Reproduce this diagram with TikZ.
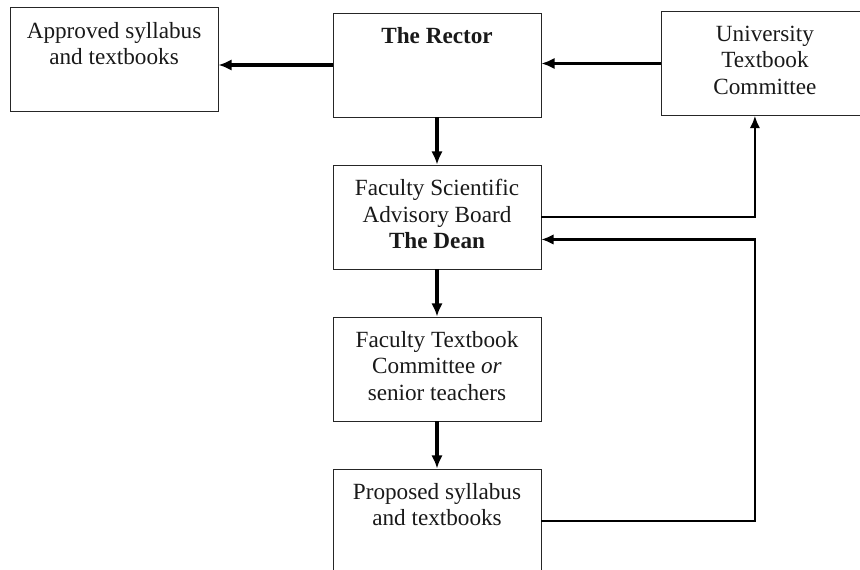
\documentclass[tikz,border=0pt]{standalone}
\usepackage{fontspec}
\setmainfont{Liberation Serif}
\usetikzlibrary{arrows.meta}

\begin{document}
\begin{tikzpicture}[
            x=0.02cm, y=-0.02cm,
            node distance=3.04cm,
            box/.style={rectangle, draw=black!85, line width=0.45pt, minimum width=4.16cm, minimum height=2.08cm},
            lbl/.style={anchor=north, align=center, yshift=-5pt, text=black!90, font=\fontsize{13.2}{15}\selectfont},
            arrow/.style={-{Latex[length=7.5pt, width=6.5pt]}, line width=2pt},
            link/.style={-{Latex[length=7pt, width=6pt]}, line width=1.2pt}
        ]
        \useasboundingbox (0,0) rectangle (860,570);

        % Top row
        \node[box, label={[lbl]north:\textbf{The Rector}}] (rector) at (437,65) {};
        \node[box, node distance=6.46cm, left of=rector, yshift=0.11cm, label={[lbl]north:Approved syllabus\\and textbooks}] (approved) {};
        \node[box, node distance=6.56cm, right of=rector, yshift=0.03cm, label={[lbl]north:University\\Textbook\\Committee}] (utc) {};

        % Faculty level
        \node[box, below of=rector, label={[lbl]north:Faculty Scientific\\Advisory Board\\\textbf{The Dean}}] (dean) {};
        \node[box, below of=dean, label={[lbl]north:Faculty Textbook\\Committee \textit{or}\\senior teachers}] (ftc) {};
        \node[box, below of=ftc, label={[lbl]north:Proposed syllabus\\and textbooks}] (proposed) {};

        % Main arrows
        \draw[arrow] (rector.west) -- (rector.west -| approved.east);
        \draw[arrow] (utc.west) -- (utc.west -| rector.east);
        \draw[arrow] (rector) -- (dean);
        \draw[arrow] (dean) -- (ftc);
        \draw[arrow] (ftc) -- (proposed);

        % Side connections
        \coordinate (turn) at ([xshift=-0.2cm]utc.south);
        \coordinate (back) at ([yshift=-0.45cm]dean.east);
        \draw[link] (dean.east) -| (turn);
        \draw[link] (proposed.east) -| (turn |- back) -- (back);

\end{tikzpicture}
\end{document}
